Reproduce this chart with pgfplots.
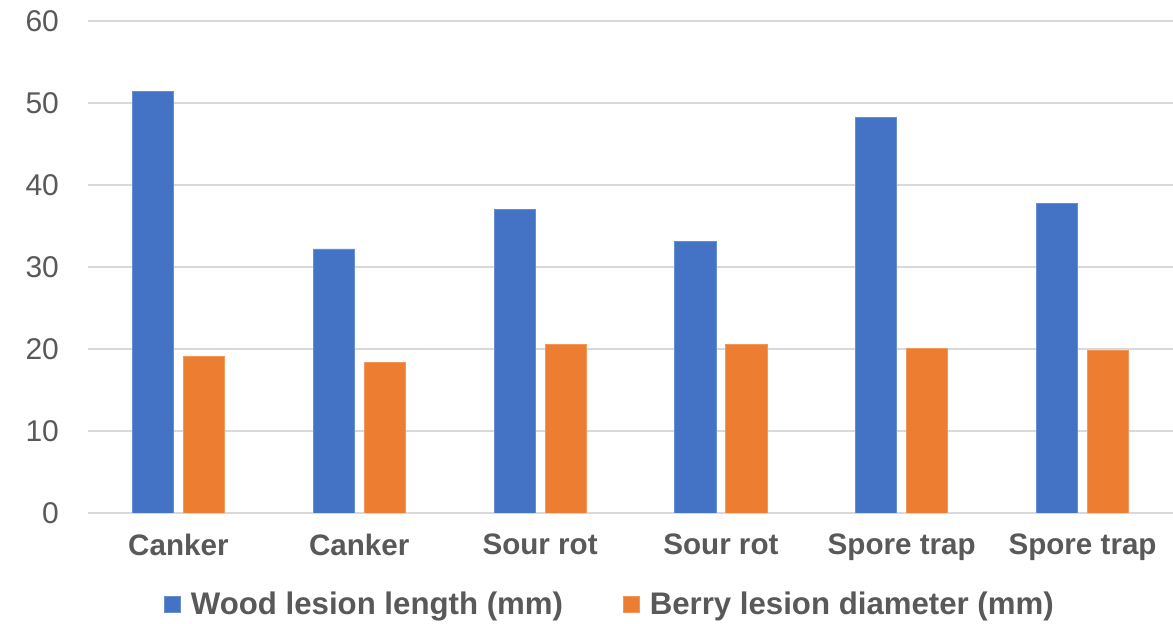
\documentclass[border=0pt]{standalone}
\usepackage{pgfplots}
\pgfplotsset{compat=1.18}
\usepackage{fontspec}
\setmainfont{Liberation Sans}
\definecolor{cblue}{HTML}{4472C4}
\definecolor{corange}{HTML}{ED7D31}
\definecolor{tgray}{HTML}{595959}
\definecolor{ggray}{HTML}{D9D9D9}
\begin{document}
\begin{tikzpicture}
\begin{axis}[
  width=542.5pt, height=246pt, scale only axis,
  xmin=-0.5, xmax=5.5, ymin=0, ymax=60,
  ytick={0,10,...,60},
  xtick={0,1,2,3,4,5},
  xticklabels={Canker,Canker,Sour rot,Sour rot,Spore trap,Spore trap},
  xticklabel style={font=\fontsize{14.8pt}{17pt}\selectfont\bfseries, text=tgray, yshift=-7pt},
  yticklabel style={font=\fontsize{15pt}{17pt}\selectfont, text=tgray, xshift=-11pt},
  /pgf/number format/assume math mode=true,
  axis line style={draw=none},
  major tick length=0pt,
  ymajorgrids, grid style={ggray, line width=1pt},
  ybar, bar width=0.227, bar shift auto=false,
  legend style={draw=none, at={(0.482,-0.187)}, anchor=center, legend columns=2,
    font=\fontsize{15.6pt}{18pt}\selectfont\bfseries, text=tgray,
    /tikz/every odd column/.append style={column sep=3pt},
    /tikz/every even column/.append style={column sep=28pt}},
  legend image code/.code={\fill[#1] (0pt,-3.5pt) rectangle (8pt,4.5pt);},
]
\addplot[fill=cblue, draw=cblue!80!white, bar shift=-0.141] coordinates {(0,51.4) (1,32.2) (2,37.0) (3,33.1) (4,48.2) (5,37.7)};
\addlegendentry{Wood lesion length (mm)}
\addplot[fill=corange, draw=corange!80!white, bar shift=0.141] coordinates {(0,19.1) (1,18.4) (2,20.5) (3,20.5) (4,20.1) (5,19.8)};
\addlegendentry{Berry lesion diameter (mm)}
\end{axis}
\pgfresetboundingbox
\path (current axis.south west) ++(-44pt,-55.5pt) rectangle ++(586.5pt,312pt);
\end{tikzpicture}
\end{document}
